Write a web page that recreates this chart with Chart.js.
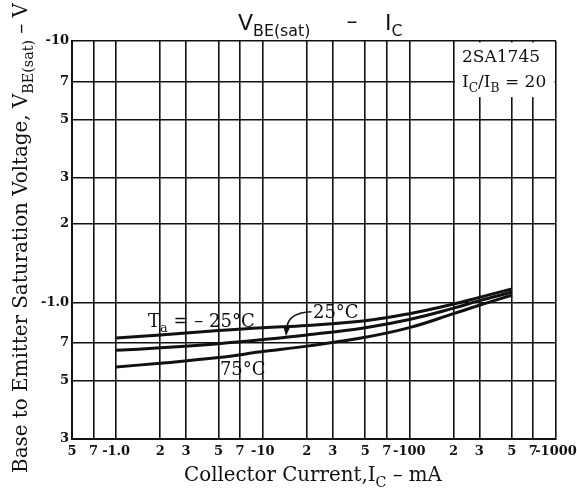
<!DOCTYPE html>
<html lang="en">
  <head>
    <meta charset="UTF-8" />
    <title>VBE(sat) - IC</title>
    <script src="https://cdn.jsdelivr.net/npm/chart.js"></script>
    <style>
      html, body { margin: 0; padding: 0; background: #fff; }
      #wrap { width: 577px; height: 492px; position: relative; }
    </style>
  </head>
  <body>
    <div id="wrap"><canvas id="vbeChart"></canvas></div>

    <script>
      // Collector current (mA, magnitude) and V_BE(sat) (V, magnitude)
      const currents = [1, 2, 5, 10, 20, 50, 100, 200, 300, 500];
      const vbeMinus25 = [0.73, 0.75, 0.78, 0.80, 0.815, 0.85, 0.905, 0.985, 1.045, 1.125];
      const vbe25 = [0.655, 0.67, 0.695, 0.72, 0.75, 0.80, 0.86, 0.95, 1.015, 1.095];
      const vbe75 = [0.566, 0.585, 0.615, 0.648, 0.68, 0.735, 0.80, 0.905, 0.975, 1.065];

      // Axis ticks and their printed labels
      const xTicks = [0.5, 0.7, 1, 2, 3, 5, 7, 10, 20, 30, 50, 70, 100, 200, 300, 500, 700, 1000];
      const xLabels = ['5', '7', '-1.0', '2', '3', '5', '7', '-10', '2', '3', '5', '7', '-100', '2', '3', '5', '7', '-1000'];
      const yTicks = [0.3, 0.5, 0.7, 1, 2, 3, 5, 7, 10];
      const yLabels = ['3', '5', '7', '-1.0', '2', '3', '5', '7', '-10'];

      const ink = '#111';
      const serif = '"DejaVu Serif"';

      function toPoints(ys) {
        return currents.map((c, i) => ({ x: c, y: ys[i] }));
      }

      // draw text made of normal + subscript pieces
      function richWidth(ctx, parts, size, family) {
        let w = 0;
        parts.forEach(([t, sub]) => {
          ctx.font = `${sub ? size * 0.72 : size}px ${family}`;
          w += ctx.measureText(t).width;
        });
        return w;
      }
      function drawRich(ctx, parts, x, y, size, family, align) {
        const total = richWidth(ctx, parts, size, family);
        let cx = align === 'center' ? x - total / 2 : x;
        parts.forEach(([t, sub]) => {
          ctx.font = `${sub ? size * 0.72 : size}px ${family}`;
          ctx.fillText(t, cx, y + (sub ? size * 0.28 : 0));
          cx += ctx.measureText(t).width;
        });
      }
      function fitSize(ctx, parts, family, width) {
        return 20 * width / richWidth(ctx, parts, 20, family);
      }

      const textPlugin = {
        id: 'sheetText',
        afterDraw(chart) {
          const ctx = chart.ctx;
          const xs = chart.scales.x, ys = chart.scales.y;
          const area = chart.chartArea;
          ctx.save();
          ctx.fillStyle = ink;
          ctx.textBaseline = 'alphabetic';
          ctx.textAlign = 'left';

          // title
          drawRich(ctx, [['V', false], ['BE(sat)', true]], 238, 30, 22, '"DejaVu Sans"', 'left');
          ctx.font = '22px "DejaVu Sans"';
          ctx.textAlign = 'center';
          ctx.fillText('\u2013', 352, 28);
          ctx.textAlign = 'left';
          drawRich(ctx, [['I', false], ['C', true]], 385, 30, 22, '"DejaVu Sans"', 'left');

          // device box in the upper right corner
          const bx = xs.getPixelForValue(200) + 1.5;
          const by = ys.getPixelForValue(6.1);
          ctx.fillStyle = '#fff';
          ctx.fillRect(bx, area.top + 1.5, area.right - 1.5 - bx, by - area.top - 1.5);
          ctx.fillStyle = ink;
          ctx.font = `17px ${serif}`;
          ctx.fillText('2SA1745', bx + 7, area.top + 21);
          drawRich(ctx, [['I', false], ['C', true], ['/I', false], ['B', true], [' = 20', false]],
            bx + 7, area.top + 46, 17, serif, 'left');

          // curve labels
          drawRich(ctx, [['T', false], ['a', true], [' = \u2013 25\u00b0C', false]],
            xs.getPixelForValue(1.65), ys.getPixelForValue(0.807), 18, serif, 'left');
          ctx.font = `18px ${serif}`;
          ctx.fillText('25\u00b0C', xs.getPixelForValue(22), ys.getPixelForValue(0.875));
          ctx.fillText('75\u00b0C', xs.getPixelForValue(5.1), ys.getPixelForValue(0.526));

          // leader from the 25°C label down to its curve
          const sx = xs.getPixelForValue(21.5), sy = ys.getPixelForValue(0.92);
          const qx = xs.getPixelForValue(15), qy = ys.getPixelForValue(0.915);
          const ex = xs.getPixelForValue(14.6), ey = ys.getPixelForValue(0.80);
          const tx = xs.getPixelForValue(14.4), ty = ys.getPixelForValue(0.742);
          ctx.strokeStyle = ink;
          ctx.lineWidth = 1.6;
          ctx.beginPath();
          ctx.moveTo(sx, sy);
          ctx.quadraticCurveTo(qx, qy, ex, ey);
          ctx.stroke();
          ctx.beginPath();
          ctx.moveTo(ex - 3.5, ey - 1);
          ctx.lineTo(ex + 3, ey);
          ctx.lineTo(tx, ty);
          ctx.closePath();
          ctx.fill();

          // axis titles
          const xt = [['Collector Current,I', false], ['C', true], [' \u2013 mA', false]];
          drawRich(ctx, xt, 313, 481, fitSize(ctx, xt, serif, 258), serif, 'center');

          const yt = [['Base to Emitter Saturation Voltage, V', false], ['BE(sat)', true], [' \u2013 V', false]];
          ctx.translate(27, 238);
          ctx.rotate(-Math.PI / 2);
          drawRich(ctx, yt, 0, 0, fitSize(ctx, yt, serif, 470), serif, 'center');
          ctx.restore();
        }
      };

      const lineStyle = {
        borderColor: ink,
        borderWidth: 3,
        pointRadius: 0,
        tension: 0.4,
        fill: false
      };

      const tickFont = { family: 'DejaVu Serif', weight: 'bold', size: 13 };

      new Chart(document.getElementById('vbeChart'), {
        type: 'line',
        data: {
          datasets: [
            { label: 'Ta = -25°C', data: toPoints(vbeMinus25), ...lineStyle },
            { label: '25°C', data: toPoints(vbe25), ...lineStyle },
            { label: '75°C', data: toPoints(vbe75), ...lineStyle }
          ]
        },
        options: {
          responsive: true,
          maintainAspectRatio: false,
          animation: false,
          layout: { padding: { top: 41, right: 21, left: 0, bottom: 0 } },
          plugins: { legend: { display: false }, tooltip: { enabled: false } },
          scales: {
            x: {
              type: 'logarithmic',
              min: 0.5,
              max: 1000,
              afterBuildTicks: (s) => { s.ticks = xTicks.map(v => ({ value: v })); },
              afterFit: (s) => { s.height = 53; s.paddingLeft = 0; s.paddingRight = 0; },
              grid: { color: ink, lineWidth: 1.6, drawTicks: false },
              border: { color: ink, width: 2 },
              ticks: {
                autoSkip: false,
                maxRotation: 0,
                padding: 5,
                color: ink,
                font: tickFont,
                callback: (v, i) => xLabels[i]
              }
            },
            y: {
              type: 'logarithmic',
              min: 0.3,
              max: 10,
              afterBuildTicks: (s) => { s.ticks = yTicks.map(v => ({ value: v })); },
              afterFit: (s) => { s.width = 72; },
              grid: { color: ink, lineWidth: 1.6, drawTicks: false },
              border: { color: ink, width: 2 },
              ticks: {
                autoSkip: false,
                padding: 3,
                color: ink,
                font: tickFont,
                callback: (v, i) => yLabels[i]
              }
            }
          }
        },
        plugins: [textPlugin]
      });
    </script>
  </body>
</html>
